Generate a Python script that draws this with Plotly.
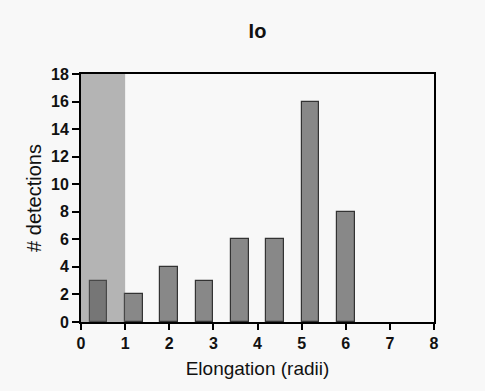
import plotly.graph_objects as go

elongation = [0.4, 1.2, 2.0, 2.8, 3.6, 4.4, 5.2, 6.0]
detections = [3, 2, 4, 3, 6, 6, 16, 8]
x_ticks = [0, 1, 2, 3, 4, 5, 6, 7, 8]
y_ticks = [0, 2, 4, 6, 8, 10, 12, 14, 16, 18]
shade_range = [0, 1]

fig = go.Figure()
fig.add_trace(go.Bar(
    x=elongation, y=detections, width=0.4,
    marker=dict(color="#888888", line=dict(color="#333333", width=1.2)),
    showlegend=False, hoverinfo="skip",
))

fig.add_shape(type="rect", xref="x", yref="y",
              x0=shade_range[0], x1=shade_range[1], y0=0, y1=18,
              fillcolor="rgba(98,98,98,0.45)", line=dict(width=0), layer="above")

font_family = "Liberation Sans, Arial, sans-serif"
fig.update_layout(
    width=485, height=391,
    margin=dict(l=81, r=51, t=74, b=69),
    paper_bgcolor="#f8f8f8", plot_bgcolor="#f8f8f8",
    title=dict(text="<b>Io</b>", xref="paper", x=0.5, xanchor="center", y=1 - 31 / 391, yanchor="middle",
               font=dict(family=font_family, size=20, color="#111111")),
    bargap=0,
)
fig.update_xaxes(
    range=[0, 8], tickvals=x_ticks, ticktext=[str(v) for v in x_ticks],
    showgrid=False, zeroline=False,
    showline=True, linecolor="#000000", linewidth=2, mirror=True,
    ticks="outside", ticklen=6, tickwidth=2, tickcolor="#000000",
    tickfont=dict(family=font_family, size=16, color="#111111", weight="bold"),
    title=dict(text="Elongation (radii)", font=dict(family=font_family, size=19, color="#111111"), standoff=10),
)
fig.update_yaxes(
    range=[0, 18], tickvals=y_ticks, ticktext=[str(v) for v in y_ticks],
    showgrid=False, zeroline=False,
    showline=True, linecolor="#000000", linewidth=2, mirror=True,
    ticks="outside", ticklen=7, tickwidth=2, tickcolor="#000000",
    tickfont=dict(family=font_family, size=16, color="#111111", weight="bold"),
    title=dict(text="# detections", font=dict(family=font_family, size=20, color="#111111"), standoff=4),
)

fig.write_html("out.html", config={"displayModeBar": False},
               post_script="document.body.style.margin='0';document.body.style.background='#f8f8f8';")
